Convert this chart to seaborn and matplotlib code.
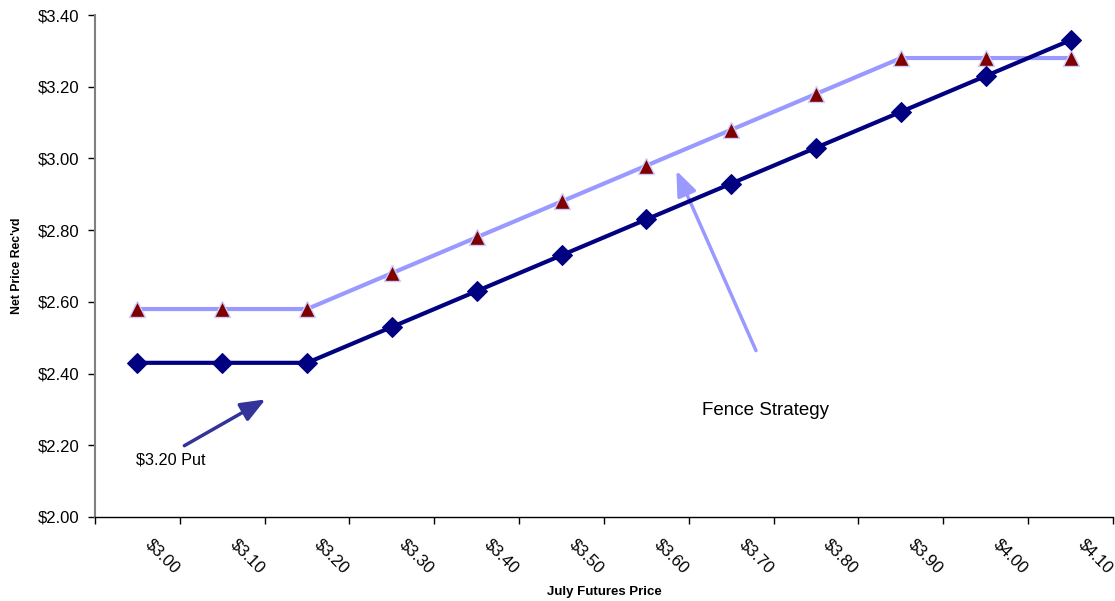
import numpy as np
import pandas as pd
import seaborn as sns
import matplotlib
matplotlib.use('Agg')
import matplotlib.pyplot as plt
from matplotlib.transforms import ScaledTranslation

# data
futures = ['$3.00', '$3.10', '$3.20', '$3.30', '$3.40', '$3.50',
           '$3.60', '$3.70', '$3.80', '$3.90', '$4.00', '$4.10']
put_net = [2.43, 2.43, 2.43, 2.53, 2.63, 2.73, 2.83, 2.93, 3.03, 3.13, 3.23, 3.33]
fence_net = [2.58, 2.58, 2.58, 2.68, 2.78, 2.88, 2.98, 3.08, 3.18, 3.28, 3.28, 3.28]
yticks = [2.0, 2.2, 2.4, 2.6, 2.8, 3.0, 3.2, 3.4]

df = pd.DataFrame({'pos': np.arange(len(futures)), 'label': futures,
                   'put': put_net, 'fence': fence_net})

sns.set_style('white')
plt.rcParams['font.family'] = ['Liberation Sans', 'DejaVu Sans']
plt.rcParams['text.color'] = 'black'
plt.rcParams['axes.labelcolor'] = 'black'
plt.rcParams['xtick.color'] = 'black'
plt.rcParams['ytick.color'] = 'black'

fig = plt.figure(figsize=(11.15, 6.01), dpi=100)
ax = fig.add_axes([0.0852, 0.1398, 0.9130, 0.8352])

# Fence strategy line
sns.lineplot(data=df, x='pos', y='fence', ax=ax, color='#9999FF', linewidth=3,
             marker='^', markersize=12, markerfacecolor='#800000',
             markeredgecolor='#CCCCFF', markeredgewidth=1, zorder=3)
# $3.20 put line
sns.lineplot(data=df, x='pos', y='put', ax=ax, color='#000080', linewidth=3,
             marker='D', markersize=10, markerfacecolor='#000080',
             markeredgecolor='#000080', zorder=4)

ax.set_xlim(-0.5, len(futures) - 0.5)
ax.set_ylim(2.0, 3.4)
ax.set_yticks(yticks)
ax.set_yticklabels([f'${v:.2f}' for v in yticks], fontsize=12)

ax.set_xticks(df['pos'])
ax.set_xticklabels(df['label'], rotation=-45, ha='left', va='top', fontsize=12)
ax.set_xticks(np.arange(-0.5, len(futures), 1.0), minor=True)
ax.tick_params(axis='x', which='major', length=0, pad=14)
ax.tick_params(axis='x', which='minor', length=5, width=1, color='black', direction='out')
ax.tick_params(axis='y', length=5, width=1, color='black', direction='out', pad=6)
ax.xaxis.set_ticks_position('bottom')
ax.yaxis.set_ticks_position('left')
offset = ScaledTranslation(5 / 100, 0, fig.dpi_scale_trans)
for lab in ax.get_xticklabels():
    lab.set_transform(lab.get_transform() + offset)

for s in ['top', 'right']:
    ax.spines[s].set_visible(False)
ax.spines['left'].set_color('#808080')
ax.spines['left'].set_linewidth(1.5)
ax.spines['bottom'].set_color('black')
ax.spines['bottom'].set_linewidth(1)

ax.set_xlabel('July Futures Price', fontsize=9.5, fontweight='bold')
ax.set_ylabel("Net Price Rec'vd", fontsize=8.8, fontweight='bold')
ax.xaxis.set_label_coords(0.5, -0.138)
ax.yaxis.set_label_coords(-0.0705, 0.5)

# annotations
ax.annotate('', xy=(6.34, 2.973), xytext=(7.305, 2.457),
            arrowprops=dict(arrowstyle='-|>,head_length=1.5,head_width=0.6',
                            color='#9999FF', lw=2.5))
ax.text(6.66, 2.298, 'Fence Strategy', fontsize=13.5, va='center', ha='left')
ax.annotate('', xy=(1.539, 2.332), xytext=(0.525, 2.195),
            arrowprops=dict(arrowstyle='-|>,head_length=1.5,head_width=0.6',
                            color='#333399', lw=2.5))
ax.text(-0.02, 2.159, '$3.20 Put', fontsize=11.7, va='center', ha='left')

fig.savefig('out.png', dpi=100)
plt.close(fig)
